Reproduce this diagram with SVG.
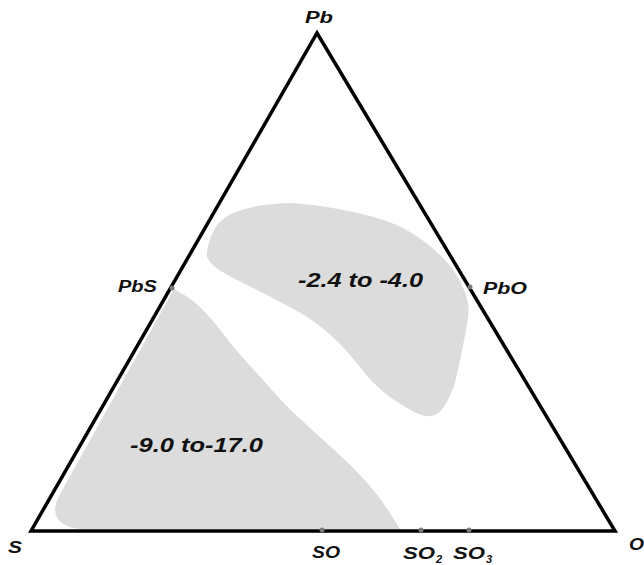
<svg xmlns="http://www.w3.org/2000/svg" width="644" height="565" viewBox="0 0 644 565">
<style>
.lbl{font-family:"Liberation Sans",Arial,sans-serif;font-weight:bold;font-style:italic;fill:#111;}
.sm{font-size:16px;}
.big{font-size:21px;}
.sub{font-size:11px;}
.region{fill:#dcdcdc;stroke:none;}
.edge{stroke:#000;stroke-width:3.5;fill:none;stroke-linecap:round;stroke-linejoin:miter;}
.dot{fill:#777;}
</style>
<rect x="0" y="0" width="644" height="565" fill="#fff"/>
<g id="region-lower">
<path class="region" d="M 174,289 L 59,496 Q 50,514 62,523 Q 70,529 85,529 L 400,529 L 390,513 Q 380,497 366.5,482 Q 353,467 336.5,452 Q 320,437 303.5,422 Q 287,407 275,393.5 Q 263,380 248,363.5 Q 233,347 223,333.5 Q 213,320 203,310 Q 193,300 183.5,294.5 Z"/>
<text class="lbl big" x="130" y="452" textLength="133" lengthAdjust="spacingAndGlyphs">-9.0 to-17.0</text>
</g>
<g id="region-upper">
<path class="region" d="M 207.5,258 Q 205,253 211,236.5 Q 217,220 232,213.5 Q 247,207 263.5,205 Q 280,203 290,203 Q 300,203 323.5,206.5 Q 347,210 372,216.5 Q 397,223 415,235 Q 433,247 445,260 Q 457,273 462.5,286.5 Q 469,300 468.5,311.5 Q 468,323 462,350 Q 457,377 453.5,387 Q 450,397 445,405 Q 440,414 431.5,416 Q 423,418 408,408.5 Q 393,400 383,391.5 Q 373,383 366.5,375 Q 360,367 350,355 Q 340,343 326.5,331.5 Q 313,320 301.5,313.5 Q 290,307 273.5,298.5 Q 257,290 240,281.5 Q 223,273 216.5,268 Q 210,263 207.5,258 Z"/>
<text class="lbl big" x="298" y="287" textLength="125" lengthAdjust="spacingAndGlyphs">-2.4 to -4.0</text>
</g>
<g id="connectors">
<path class="edge" d="M 31,531 L 317,33 L 615,531 Z"/>
</g>
<g id="node-Pb"><text class="lbl sm" x="305" y="23" textLength="28" lengthAdjust="spacingAndGlyphs">Pb</text></g>
<g id="node-S"><text class="lbl sm" x="8" y="553" textLength="14" lengthAdjust="spacingAndGlyphs">S</text></g>
<g id="node-O"><text class="lbl sm" x="629" y="550" textLength="15" lengthAdjust="spacingAndGlyphs">O</text></g>
<g id="node-PbS"><circle class="dot" cx="172" cy="288" r="2.5"/><text class="lbl sm" x="118" y="292" textLength="39" lengthAdjust="spacingAndGlyphs">PbS</text></g>
<g id="node-PbO"><circle class="dot" cx="470" cy="287" r="2.5"/><text class="lbl sm" x="483" y="294" textLength="44" lengthAdjust="spacingAndGlyphs">PbO</text></g>
<g id="node-SO"><circle class="dot" cx="322" cy="530" r="2.5"/><text class="lbl sm" x="312" y="558" textLength="28" lengthAdjust="spacingAndGlyphs">SO</text></g>
<g id="node-SO2"><circle class="dot" cx="421" cy="530" r="2.5"/><text class="lbl sm" x="403" y="559" textLength="32" lengthAdjust="spacingAndGlyphs">SO</text><text class="lbl sub" x="436" y="563">2</text></g>
<g id="node-SO3"><circle class="dot" cx="469" cy="530" r="2.5"/><text class="lbl sm" x="453" y="559" textLength="32" lengthAdjust="spacingAndGlyphs">SO</text><text class="lbl sub" x="486" y="563">3</text></g>
</svg>
